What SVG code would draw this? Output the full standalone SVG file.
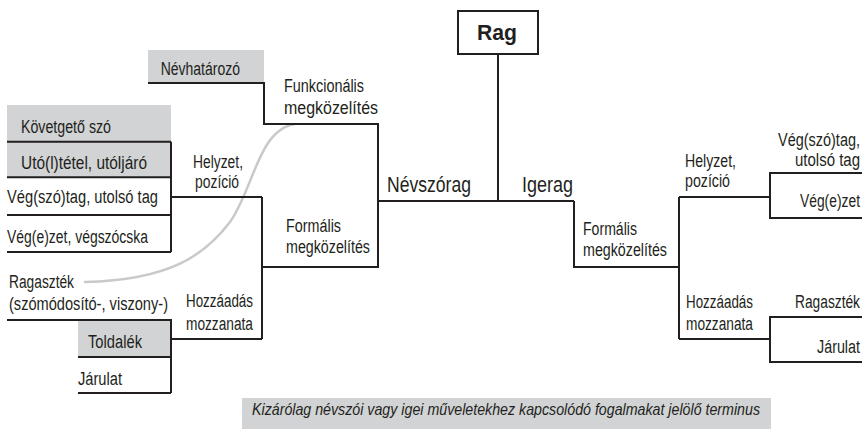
<svg xmlns="http://www.w3.org/2000/svg" width="864" height="429" viewBox="0 0 864 429">
<style>
.t{font-family:"Liberation Sans",Arial,sans-serif;font-size:18px;fill:#231f20}
.big{font-size:22px}
.rag{font-weight:bold;font-size:22px}
.cap{font-style:italic;font-size:17px}
.ln{stroke:#231f20;stroke-width:2;fill:none;stroke-linejoin:miter}
.gb{fill:#d1d3d4}
.cv{stroke:#c8c9ca;stroke-width:2.5;fill:none;stroke-linecap:round}
</style>
<rect width="864" height="429" fill="#ffffff"/>
<g id="gray-boxes">
<rect class="gb" x="148" y="50" width="116" height="33"/>
<rect class="gb" x="7" y="105" width="164" height="36.7"/>
<rect class="gb" x="7" y="141.7" width="164" height="35.6"/>
<rect class="gb" x="78" y="320" width="93" height="37"/>
<rect class="gb" x="242" y="398" width="529" height="31"/>
</g>
<g id="connectors">
<path class="cv" d="M85 282 C170 280 205 255 230 222 C254 188 258 130 295 124"/>
<path class="ln" d="M498 54 V201"/>
<path class="ln" d="M378 201 H574"/>
<path class="ln" d="M148 83 H264 V124 H378 V267 H262"/>
<path class="ln" d="M262 197 V339"/>
<path class="ln" d="M171 197 H262"/>
<path class="ln" d="M171 339 H262"/>
<path class="ln" d="M171 141.7 V252"/>
<path class="ln" d="M7 141.7 H171 M7 177.3 H171 M7 215 H171 M7 252 H171"/>
<path class="ln" d="M7 320 H171 V393"/>
<path class="ln" d="M78 357 H171 M78 393 H171"/>
<path class="ln" d="M574 201 V267 H679"/>
<path class="ln" d="M679 197 V339"/>
<path class="ln" d="M679 197 H770 M679 339 H770"/>
<path class="ln" d="M862 173 H770 V218 H862"/>
<path class="ln" d="M862 317 H770 V362 H862"/>
</g>
<g id="node-rag">
<rect x="458" y="11" width="80" height="43" fill="#ffffff" stroke="#231f20" stroke-width="2"/>
<text class="t rag" x="477" y="39.5" textLength="40" lengthAdjust="spacingAndGlyphs">Rag</text>
</g>
<g id="node-nevszorag"><text class="t big" x="387" y="191.7" textLength="84" lengthAdjust="spacingAndGlyphs">Névszórag</text></g>
<g id="node-igerag"><text class="t big" x="522" y="191.7" textLength="51" lengthAdjust="spacingAndGlyphs">Igerag</text></g>
<g id="node-funkcionalis">
<text class="t" x="284" y="92" textLength="80" lengthAdjust="spacingAndGlyphs">Funkcionális</text>
<text class="t" x="284" y="113.5" textLength="94" lengthAdjust="spacingAndGlyphs">megközelítés</text>
</g>
<g id="node-nevhatarozo"><text class="t" x="160.7" y="74.5" textLength="79.3" lengthAdjust="spacingAndGlyphs">Névhatározó</text></g>
<g id="node-formalis-l">
<text class="t" x="286" y="232" textLength="55" lengthAdjust="spacingAndGlyphs">Formális</text>
<text class="t" x="286" y="253" textLength="84" lengthAdjust="spacingAndGlyphs">megközelítés</text>
</g>
<g id="node-helyzet-l">
<text class="t" x="193" y="167.7" textLength="50" lengthAdjust="spacingAndGlyphs">Helyzet,</text>
<text class="t" x="195" y="188.3" textLength="44" lengthAdjust="spacingAndGlyphs">pozíció</text>
</g>
<g id="node-kovetgeto"><text class="t" x="21" y="133.3" textLength="90" lengthAdjust="spacingAndGlyphs">Követgető szó</text></g>
<g id="node-utoltetel"><text class="t" x="21" y="169" textLength="126" lengthAdjust="spacingAndGlyphs">Utó(l)tétel, utóljáró</text></g>
<g id="node-vegszotag-l"><text class="t" x="7" y="203.3" textLength="151" lengthAdjust="spacingAndGlyphs">Vég(szó)tag, utolsó tag</text></g>
<g id="node-vegezet-l"><text class="t" x="7" y="243.3" textLength="141" lengthAdjust="spacingAndGlyphs">Vég(e)zet, végszócska</text></g>
<g id="node-hozzaadas-l">
<text class="t" x="186" y="306.7" textLength="67" lengthAdjust="spacingAndGlyphs">Hozzáadás</text>
<text class="t" x="186" y="330" textLength="67" lengthAdjust="spacingAndGlyphs">mozzanata</text>
</g>
<g id="node-ragasztek-l">
<text class="t" x="9" y="288" textLength="65" lengthAdjust="spacingAndGlyphs">Ragaszték</text>
<text class="t" x="9" y="310" textLength="159" lengthAdjust="spacingAndGlyphs">(szómódosító-, viszony-)</text>
</g>
<g id="node-toldalek"><text class="t" x="88" y="348" textLength="54" lengthAdjust="spacingAndGlyphs">Toldalék</text></g>
<g id="node-jarulat-l"><text class="t" x="78" y="385" textLength="44" lengthAdjust="spacingAndGlyphs">Járulat</text></g>
<g id="node-formalis-r">
<text class="t" x="583" y="235" textLength="54" lengthAdjust="spacingAndGlyphs">Formális</text>
<text class="t" x="583" y="256" textLength="84" lengthAdjust="spacingAndGlyphs">megközelítés</text>
</g>
<g id="node-helyzet-r">
<text class="t" x="685" y="167" textLength="51" lengthAdjust="spacingAndGlyphs">Helyzet,</text>
<text class="t" x="685" y="187" textLength="45" lengthAdjust="spacingAndGlyphs">pozíció</text>
</g>
<g id="node-vegszotag-r">
<text class="t" x="778" y="146" textLength="82" lengthAdjust="spacingAndGlyphs">Vég(szó)tag,</text>
<text class="t" x="795" y="166" textLength="65" lengthAdjust="spacingAndGlyphs">utolsó tag</text>
</g>
<g id="node-vegezet-r"><text class="t" x="800" y="207" textLength="60" lengthAdjust="spacingAndGlyphs">Vég(e)zet</text></g>
<g id="node-hozzaadas-r">
<text class="t" x="686" y="308" textLength="67" lengthAdjust="spacingAndGlyphs">Hozzáadás</text>
<text class="t" x="686" y="330" textLength="67" lengthAdjust="spacingAndGlyphs">mozzanata</text>
</g>
<g id="node-ragasztek-r"><text class="t" x="795" y="308" textLength="65" lengthAdjust="spacingAndGlyphs">Ragaszték</text></g>
<g id="node-jarulat-r"><text class="t" x="817" y="353" textLength="43" lengthAdjust="spacingAndGlyphs">Járulat</text></g>
<g id="caption"><text class="t cap" x="252" y="415" textLength="508" lengthAdjust="spacingAndGlyphs">Kizárólag névszói vagy igei műveletekhez kapcsolódó fogalmakat jelölő terminus</text></g>
</svg>
